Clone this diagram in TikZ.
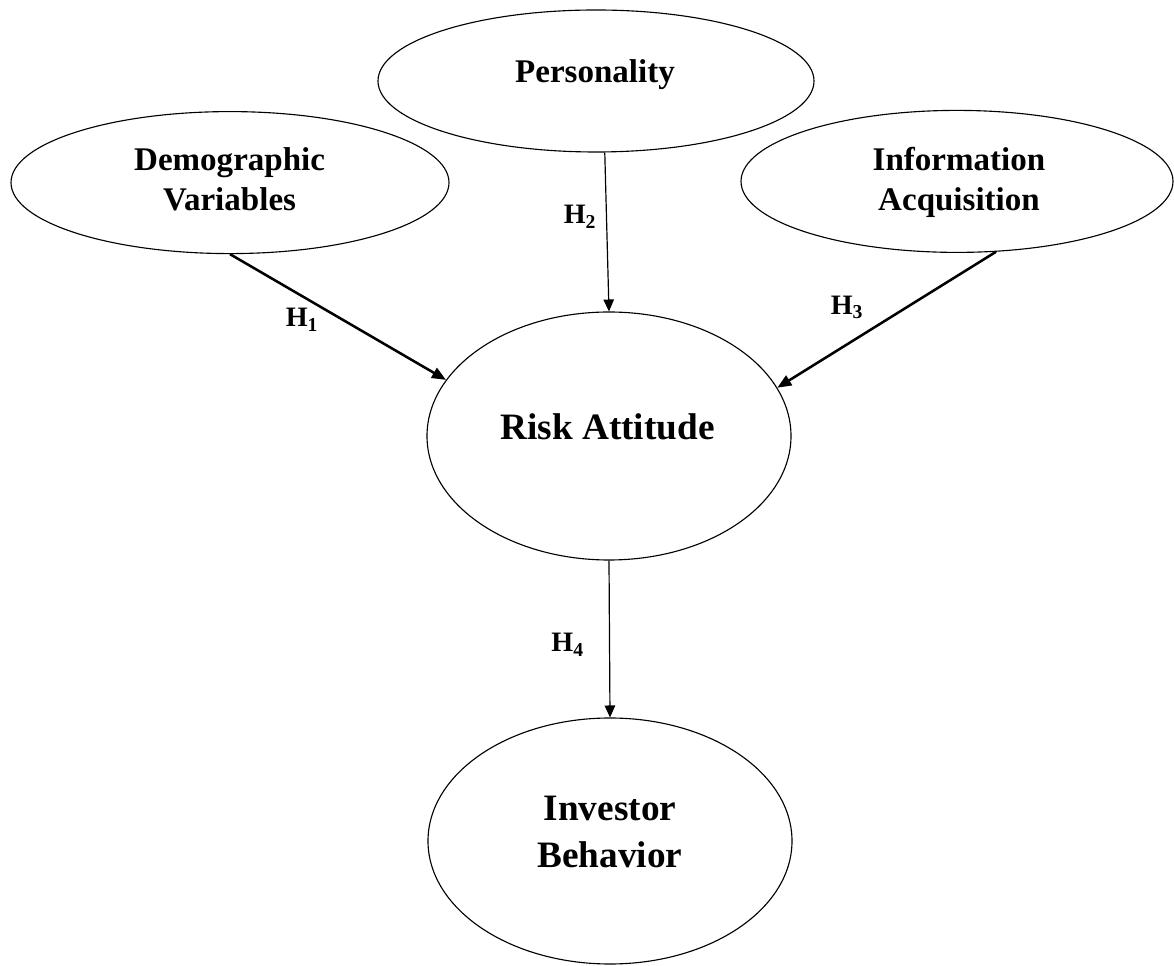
\documentclass[tikz,border=0pt]{standalone}
\usepackage{fontspec}
\setmainfont{Liberation Serif}
\usepackage{tikz}
\usetikzlibrary{arrows.meta, shapes.geometric}

\begin{document}
\begin{tikzpicture}[line width=0.8pt,
  oval/.style={draw, ellipse, inner sep=0pt},
  small/.style={font=\fontsize{23.5}{28.5}\selectfont\bfseries, align=center},
  big/.style={font=\fontsize{26.5}{33.4}\selectfont\bfseries, align=center},
  hyp/.style={font=\fontsize{20}{24}\selectfont\bfseries, anchor=base, inner sep=0pt},
  thin link/.style={-{Triangle[length=8.5pt,width=7.5pt]}, line width=0.85pt},
  thick link/.style={-{Triangle[length=10pt,width=8pt]}, line width=1.8pt}]
  \useasboundingbox (0,0) rectangle (29.35,24.125);

  % Nezavisle promenne (nahore)
  \node[oval, minimum width=10.9cm, minimum height=3.55cm] (pers) at (14.9,22.1) {};
  \node[small] (pers-txt) at (14.875,22.25) {Personality};

  \node[oval, minimum width=10.95cm, minimum height=3.55cm] (demo) at (5.75,19.56) {};
  \node[small] (demo-txt) at (5.74,19.65) {Demographic\\Variables};

  \node[oval, minimum width=10.8cm, minimum height=3.55cm] (info) at (23.925,19.59) {};
  \node[small] (info-txt) at (23.975,19.56) {Information\\Acquisition};

  % Mediator a zavisla promenna
  \node[oval, minimum width=9.1cm, minimum height=6.2cm] (risk) at (15.225,13.225) {};
  \node[big] (risk-txt) at (15.19,13.46) {Risk Attitude};

  \node[oval, minimum width=9.1cm, minimum height=6.15cm] (inv) at (15.25,3.1) {};
  \node[big] (inv-txt) at (15.25,3.315) {Investor\\Behavior};

  % Hypotezy
  \draw[thick link] (demo.south) -- (risk.161);
  \draw[thin link] (pers.-83) -- (risk.north);
  \draw[thick link] (info.-61) -- (risk.16);
  \draw[thin link] (risk.south) -- (inv.north);

  \node[hyp] (h1) at (7.55,15.95) {H\textsubscript{1}};
  \node[hyp] (h2) at (14.5,18.525) {H\textsubscript{2}};
  \node[hyp] (h3) at (21.175,16.27) {H\textsubscript{3}};
  \node[hyp] (h4) at (14.19,7.83) {H\textsubscript{4}};
\end{tikzpicture}
\end{document}
